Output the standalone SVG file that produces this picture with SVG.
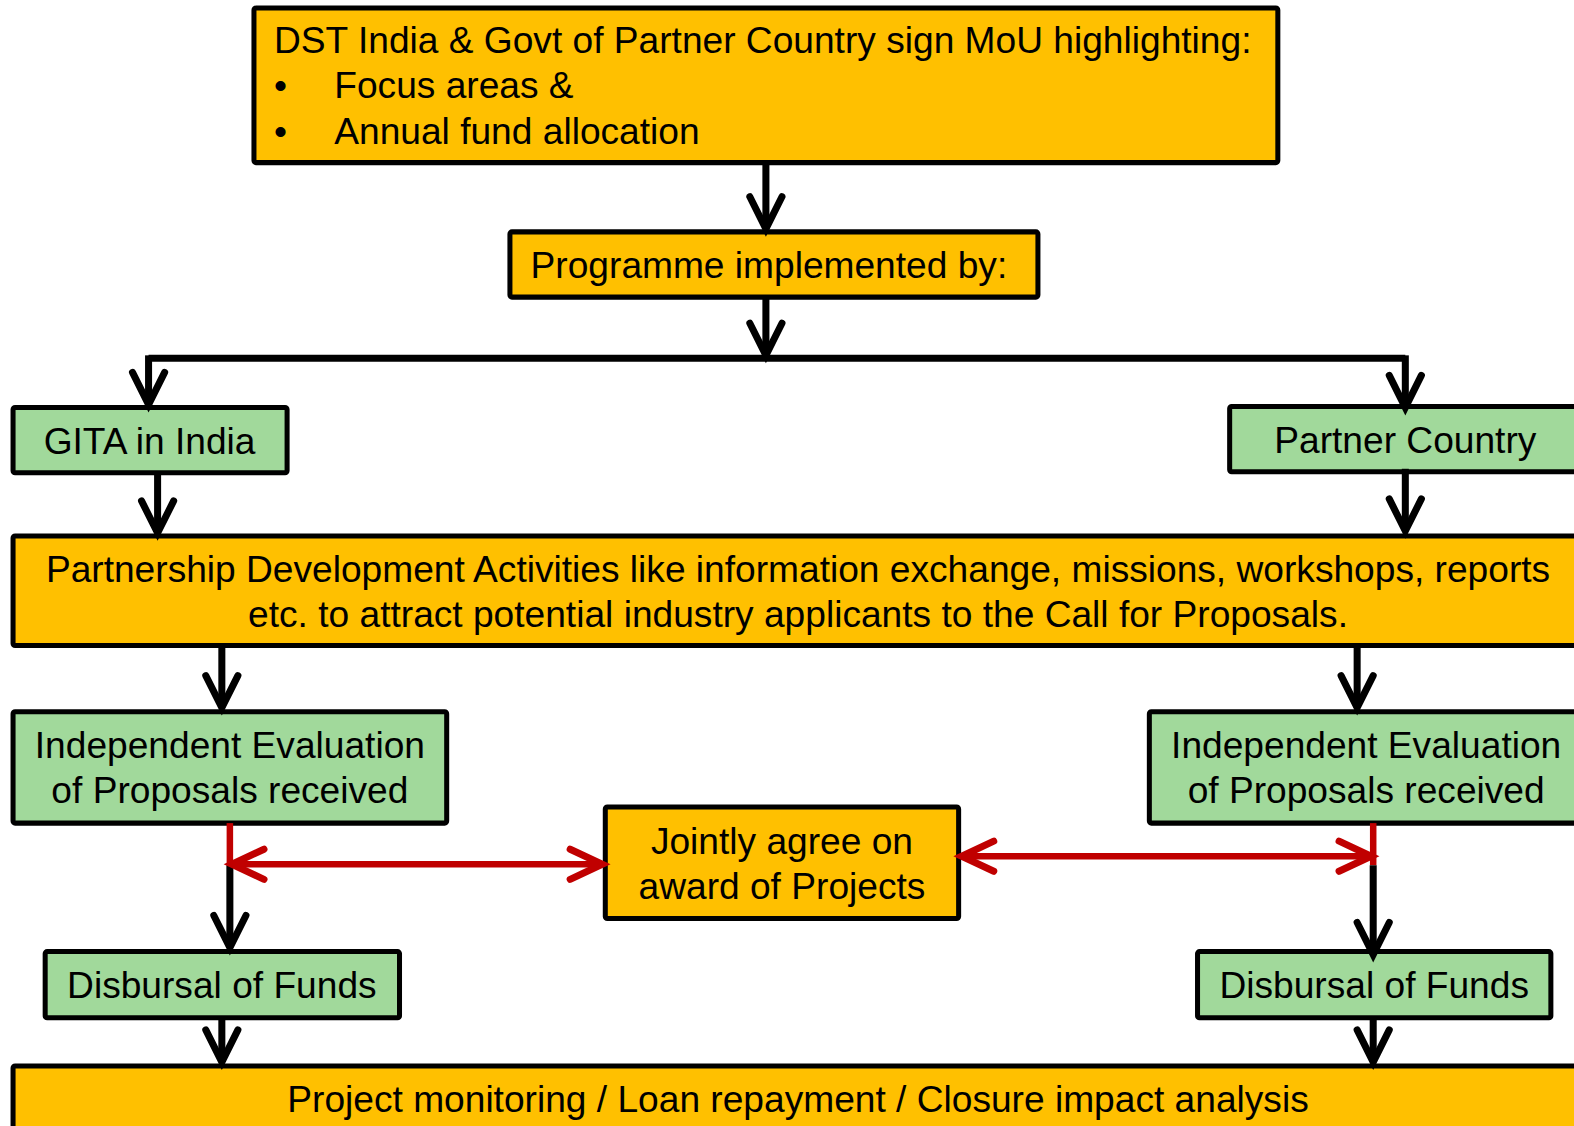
<svg xmlns="http://www.w3.org/2000/svg" width="1574" height="1126" viewBox="0 0 1574 1126">
<style>
.box{stroke:#000;stroke-width:5;}
.y{fill:#FFC000;}
.g{fill:#A1D99B;}
text{font-family:"Liberation Sans",Arial,sans-serif;font-size:37px;fill:#000;}
.c{text-anchor:middle;}
.blk{stroke:#000;stroke-width:7;fill:none;}
.red{stroke:#C00000;stroke-width:6.5;fill:none;}
</style>
<defs>
<marker id="ab" markerUnits="userSpaceOnUse" viewBox="-40 -25 46 50" markerWidth="46" markerHeight="50" refX="0" refY="0" orient="auto" overflow="visible">
<path d="M-32 -16 L0 0 L-32 16" fill="none" stroke="#000" stroke-width="7" stroke-linejoin="miter" stroke-linecap="round"/>
</marker>
<marker id="ar" markerUnits="userSpaceOnUse" viewBox="-40 -25 46 50" markerWidth="46" markerHeight="50" refX="0" refY="0" orient="auto-start-reverse" overflow="visible">
<path d="M-32 -15 L0 0 L-32 15" fill="none" stroke="#C00000" stroke-width="7" stroke-linejoin="miter" stroke-linecap="round"/>
</marker>
</defs>
<rect width="1574" height="1126" fill="#fff"/>
<g transform="scale(1.0038)">
<g id="mou">
<rect class="box y" x="253" y="8" width="1020" height="154" rx="2"/>
<text x="273" y="53">DST India &amp; Govt of Partner Country sign MoU highlighting:</text>
<text x="273" y="98">•</text><text x="333" y="98">Focus areas &amp;</text>
<text x="273" y="143">•</text><text x="333" y="143">Annual fund allocation</text>
</g>
<g id="programme">
<rect class="box y" x="508" y="231" width="526" height="65" rx="2"/>
<text class="c" x="766" y="277">Programme implemented by:</text>
</g>
<g id="gita">
<rect class="box g" x="13" y="406" width="273" height="65" rx="2"/>
<text class="c" x="149" y="452">GITA in India</text>
</g>
<g id="partner">
<rect class="box g" x="1225" y="405" width="360" height="65" rx="2"/>
<text class="c" x="1400" y="451">Partner Country</text>
</g>
<g id="pda">
<rect class="box y" x="13" y="534" width="1572" height="109" rx="2"/>
<text class="c" x="795" y="580">Partnership Development Activities like information exchange, missions, workshops, reports</text>
<text class="c" x="795" y="625">etc. to attract potential industry applicants to the Call for Proposals.</text>
</g>
<g id="evalL">
<rect class="box g" x="13" y="709" width="432" height="111" rx="2"/>
<text class="c" x="229" y="755">Independent Evaluation</text>
<text class="c" x="229" y="800">of Proposals received</text>
</g>
<g id="evalR">
<rect class="box g" x="1145" y="709" width="440" height="111" rx="2"/>
<text class="c" x="1361" y="755">Independent Evaluation</text>
<text class="c" x="1361" y="800">of Proposals received</text>
</g>
<g id="joint">
<rect class="box y" x="603" y="804" width="352" height="111" rx="2"/>
<text class="c" x="779" y="851">Jointly agree on</text>
<text class="c" x="779" y="896">award of Projects</text>
</g>
<g id="disbL">
<rect class="box g" x="45" y="948" width="353" height="66" rx="2"/>
<text class="c" x="221" y="994">Disbursal of Funds</text>
</g>
<g id="disbR">
<rect class="box g" x="1193" y="948" width="352" height="66" rx="2"/>
<text class="c" x="1369" y="994">Disbursal of Funds</text>
</g>
<g id="monitor">
<rect class="box y" x="13" y="1062" width="1572" height="80" rx="2"/>
<text class="c" x="795" y="1108">Project monitoring / Loan repayment / Closure impact analysis</text>
</g>

<g id="connectors">
<path class="blk" d="M763 162 V228" marker-end="url(#ab)"/>
<path class="blk" d="M763 296 V354" marker-end="url(#ab)"/>
<path class="blk" d="M148 357 H1400"/>
<path class="blk" d="M148 354 V403" marker-end="url(#ab)"/>
<path class="blk" d="M1400 354 V406" marker-end="url(#ab)"/>
<path class="blk" d="M157 471 V531" marker-end="url(#ab)"/>
<path class="blk" d="M1400 467 V529" marker-end="url(#ab)"/>
<path class="blk" d="M221 643 V705" marker-end="url(#ab)"/>
<path class="blk" d="M1352 643 V705" marker-end="url(#ab)"/>
<path class="red" d="M229 820 V862"/>
<path class="red" d="M1368 820 V862"/>
<path class="blk" d="M229 862 V944" marker-end="url(#ab)"/>
<path class="blk" d="M1368 862 V951" marker-end="url(#ab)"/>
<path class="red" d="M231 861 H600" marker-start="url(#ar)" marker-end="url(#ar)"/>
<path class="red" d="M958 853 H1366" marker-start="url(#ar)" marker-end="url(#ar)"/>
<path class="blk" d="M221 1014 V1058" marker-end="url(#ab)"/>
<path class="blk" d="M1368 1014 V1058" marker-end="url(#ab)"/>
</g>
</g>
</svg>
